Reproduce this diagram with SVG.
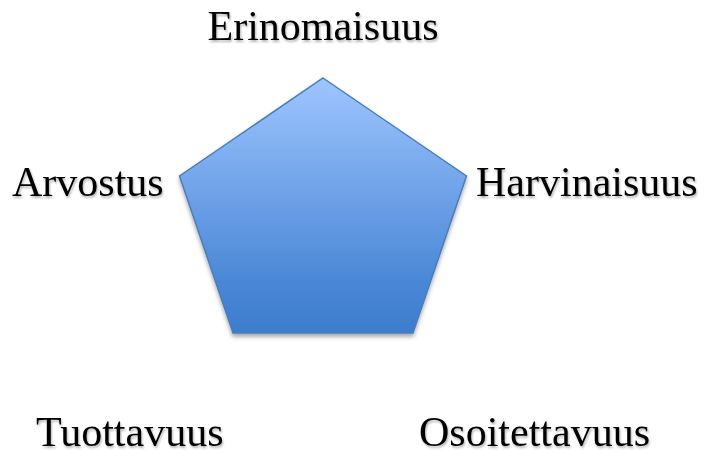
<svg xmlns="http://www.w3.org/2000/svg" width="704" height="450" viewBox="0 0 704 450">
<style>
.lbl{font-family:"Liberation Serif","Times New Roman",serif;font-size:42px;fill:#000;filter:url(#tsh)}
</style>
<defs>
<linearGradient id="g" x1="0" y1="0" x2="0" y2="1">
<stop offset="0" stop-color="#9EC5FF"/>
<stop offset="0.8" stop-color="#4A87D6"/>
<stop offset="1" stop-color="#3D7DCC"/>
</linearGradient>
<filter id="sh" x="-10%" y="-10%" width="120%" height="125%">
<feGaussianBlur in="SourceAlpha" stdDeviation="2"/>
<feOffset dx="0" dy="3" result="b"/>
<feComponentTransfer><feFuncA type="linear" slope="0.35"/></feComponentTransfer>
<feMerge><feMergeNode/><feMergeNode in="SourceGraphic"/></feMerge>
</filter>
<filter id="tsh" x="-5%" y="-20%" width="110%" height="140%">
<feGaussianBlur in="SourceAlpha" stdDeviation="1.2"/>
<feOffset dx="1" dy="2"/>
<feComponentTransfer><feFuncA type="linear" slope="0.3"/></feComponentTransfer>
<feMerge><feMergeNode/><feMergeNode in="SourceGraphic"/></feMerge>
</filter>
</defs>
<rect width="704" height="450" fill="#fff"/>
<g id="pentagon">
<polygon points="323,78 466.5,176 413,333 233,333 179.5,176" fill="url(#g)" stroke="#4A7EBB" stroke-width="1.5" stroke-linejoin="miter" filter="url(#sh)"/>
</g>
<g id="erinomaisuus"><text class="lbl" x="323" y="40" text-anchor="middle">Erinomaisuus</text></g>
<g id="arvostus"><text class="lbl" x="12" y="196">Arvostus</text></g>
<g id="harvinaisuus"><text class="lbl" x="476" y="196">Harvinaisuus</text></g>
<g id="tuottavuus"><text class="lbl" x="36" y="446">Tuottavuus</text></g>
<g id="osoitettavuus"><text class="lbl" x="419" y="446">Osoitettavuus</text></g>
<g id="connectors"></g>
</svg>
